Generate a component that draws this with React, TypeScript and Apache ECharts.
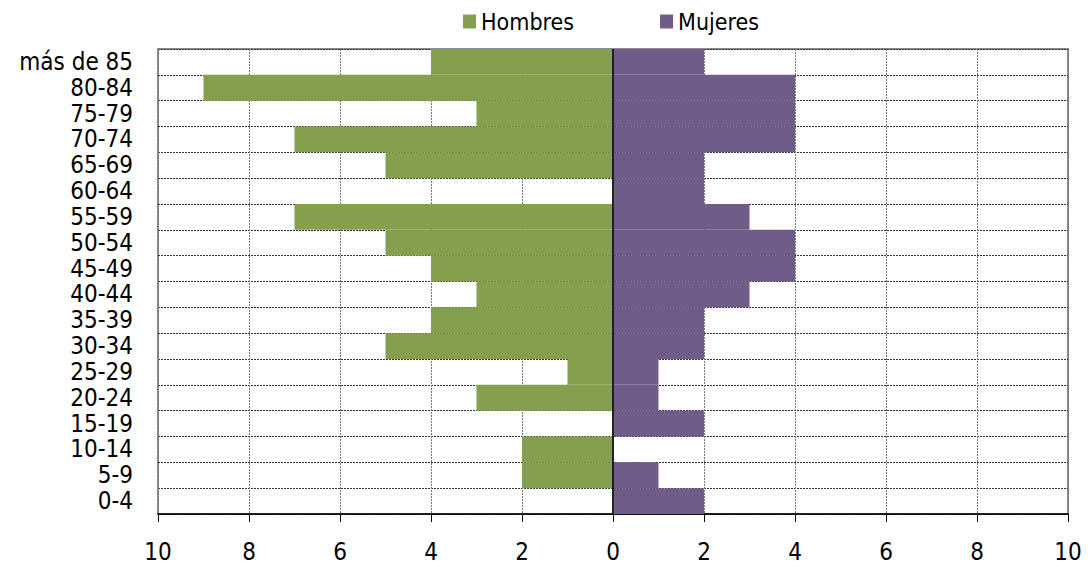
import React, { useEffect, useRef } from "react";
import * as echarts from "echarts";

const categories = ["0-4", "5-9", "10-14", "15-19", "20-24", "25-29", "30-34", "35-39", "40-44", "45-49", "50-54", "55-59", "60-64", "65-69", "70-74", "75-79", "80-84", "más de 85"];
const hombres = [0, 2, 2, 0, 3, 1, 5, 4, 3, 4, 5, 7, 0, 5, 7, 3, 9, 4];
const mujeres = [2, 1, 0, 2, 1, 1, 2, 2, 3, 4, 4, 3, 2, 2, 4, 4, 4, 2];
const xTicks = [-10, -8, -6, -4, -2, 0, 2, 4, 6, 8, 10];

const FONT = "'DejaVu Sans Condensed', 'DejaVu Sans', sans-serif";

export default function App() {
  const ref = useRef<HTMLDivElement>(null);
  useEffect(() => {
    const chart = echarts.init(ref.current!, undefined, { renderer: "svg" });
    chart.setOption({
      animation: false,
      legend: {
        top: 5,
        left: 458,
        itemWidth: 13,
        itemHeight: 14,
        itemGap: 86,
        icon: "rect",
        textStyle: { fontFamily: FONT, fontSize: 23, color: "#000" },
        data: ["Hombres", "Mujeres"],
      },
      grid: { left: 158, right: 24, top: 49, bottom: 54, show: true, borderColor: "#8c8c8c", borderWidth: 2, backgroundColor: "#fff" },
      xAxis: {
        type: "value",
        min: xTicks[0],
        max: xTicks[xTicks.length - 1],
        interval: 2,
        axisLine: { show: true, onZero: false, lineStyle: { color: "#000", width: 1.5 } },
        axisTick: { show: true, length: 8, lineStyle: { color: "#000" } },
        axisLabel: { margin: 26, fontFamily: FONT, fontSize: 24, color: "#000", formatter: (v: number) => String(Math.abs(v)) },
        splitLine: { show: true, lineStyle: { color: "#777", type: [2, 1], width: 1 } },
      },
      yAxis: {
        type: "category",
        data: categories,
        axisLine: { show: false },
        axisTick: { show: false },
        axisLabel: { interval: 0, margin: 25, fontFamily: FONT, fontSize: 24, color: "#000", lineHeight: 21 },
        splitLine: { show: true, interval: 0, lineStyle: { color: "#333", type: [2, 1], width: 1 } },
      },
      series: [
        {
          name: "Hombres",
          type: "bar",
          stack: "total",
          barCategoryGap: 0,
          itemStyle: { color: "#84A04E" },
          data: hombres.map((v) => -v),
          markLine: {
            silent: true,
            symbol: "none",
            label: { show: false },
            lineStyle: { color: "#222", type: "solid", width: 2 },
            data: [{ xAxis: 0 }],
          },
        },
        {
          name: "Mujeres",
          type: "bar",
          stack: "total",
          barCategoryGap: 0,
          itemStyle: { color: "#705C89" },
          data: mujeres,
        },
      ],
    });
    return () => chart.dispose();
  }, []);
  return <div ref={ref} style={{ width: 1092, height: 568, position: "absolute", left: 0, top: 0 }} />;
}
